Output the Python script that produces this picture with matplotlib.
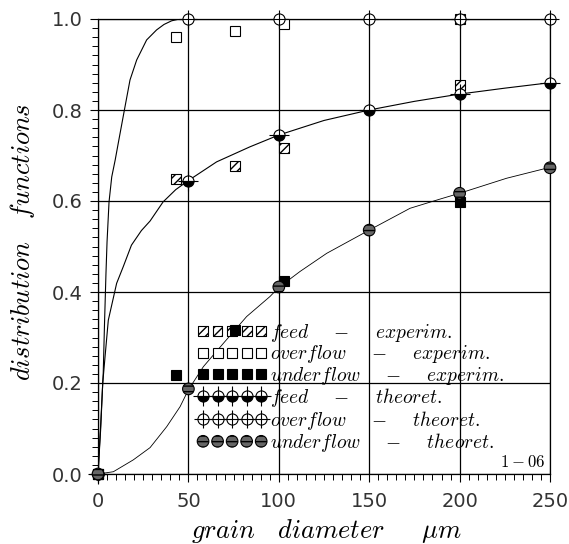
import matplotlib
matplotlib.use("Agg")
import matplotlib.pyplot as plt
from matplotlib.ticker import MultipleLocator, FormatStrFormatter

plt.rcParams["mathtext.fontset"] = "cm"

# theoretical points (grain diameter, um)
theo_x = [0, 50, 100, 150, 200, 250]
feed_theo = [0, 0.645, 0.745, 0.800, 0.835, 0.860]
over_theo = [0, 1.0, 1.0, 1.0, 1.0, 1.0]
under_theo = [0, 0.187, 0.411, 0.536, 0.617, 0.673]

# experimental points
exp_x = [0, 43, 76, 103, 200]
feed_exp = [0, 0.648, 0.677, 0.717, 0.855]
over_exp = [0, 0.960, 0.974, 0.989, 1.0]
under_exp = [0, 0.218, 0.316, 0.424, 0.598]

# curves
over_cx = [0, 1.5, 2.9, 3.6, 4.4, 5.0, 6.1, 7.6, 9.5, 11.2, 14.6, 17.7, 21.4, 26.9, 32.4, 36.5, 40.7, 45, 250]
over_cy = [0, 0.11, 0.222, 0.33, 0.44, 0.51, 0.598, 0.653, 0.69, 0.727, 0.80, 0.866, 0.910, 0.954, 0.976, 0.988, 0.996, 1.0, 1.0]
feed_cx = [0, 1.5, 2.6, 3.9, 5.7, 10.3, 14, 18.5, 24, 28.8, 36, 43, 50, 65.6, 84, 100, 111.7, 125, 150, 175, 200, 225, 250]
feed_cy = [0, 0.10, 0.199, 0.258, 0.338, 0.419, 0.456, 0.503, 0.535, 0.556, 0.598, 0.625, 0.645, 0.686, 0.719, 0.745, 0.760, 0.777, 0.800, 0.819, 0.835, 0.848, 0.860]
under_cx = [0, 8.5, 19.5, 28.8, 38, 45.4, 50, 58.3, 69.3, 82.2, 95.1, 100, 111.7, 126.5, 150, 172.6, 189, 200, 226, 250]
under_cy = [0, 0.005, 0.031, 0.058, 0.104, 0.148, 0.185, 0.236, 0.287, 0.346, 0.390, 0.410, 0.445, 0.485, 0.536, 0.584, 0.604, 0.617, 0.650, 0.674]

labels = [r"$feed\ \ \ \ -\ \ \ \ experim.$", r"$overflow\ \ \ \ -\ \ \ \ experim.$",
          r"$underflow\ \ \ \ -\ \ \ \ experim.$", r"$feed\ \ \ \ -\ \ \ \ theoret.$",
          r"$overflow\ \ \ \ -\ \ \ \ theoret.$", r"$underflow\ \ \ \ -\ \ \ \ theoret.$"]

fig = plt.figure(figsize=(5.69, 5.44), dpi=100)
ax = fig.add_axes([98 / 569, 1 - 474 / 544, 452 / 569, 455 / 544])

ax.plot(over_cx, over_cy, color="black", lw=0.8, zorder=2)
ax.plot(feed_cx, feed_cy, color="black", lw=0.8, zorder=2)
ax.plot(under_cx, under_cy, color="black", lw=0.6, zorder=2)

# experimental markers
h_fe = ax.scatter(exp_x, feed_exp, s=50, marker="s", facecolor="white", edgecolor="black",
                  hatch="////", linewidth=0.8, zorder=4, clip_on=False)
h_oe, = ax.plot(exp_x, over_exp, ls="none", marker="s", ms=7.5, mfc="white", mec="black", mew=0.8,
                zorder=4, clip_on=False)
h_ue, = ax.plot(exp_x, under_exp, ls="none", marker="s", ms=7.5, mfc="black", mec="black", mew=0.8,
                zorder=4, clip_on=False)

# theoretical markers
ft_c, = ax.plot(theo_x, feed_theo, ls="none", marker="o", ms=8, fillstyle="bottom", mfc="black",
                mfcalt="white", mec="black", mew=0.8, zorder=4, clip_on=False)
ft_p, = ax.plot(theo_x, feed_theo, ls="none", marker="+", ms=14, mec="black", mew=0.8, zorder=4, clip_on=False)
ot_c, = ax.plot(theo_x, over_theo, ls="none", marker="o", ms=8, mfc="white", mec="black", mew=0.8,
                zorder=4, clip_on=False)
ot_p, = ax.plot(theo_x, over_theo, ls="none", marker="+", ms=13, mec="black", mew=0.8, zorder=4, clip_on=False)
h_ut = ax.scatter(theo_x, under_theo, s=70, marker="o", facecolor="0.4", edgecolor="black",
                  hatch="---", linewidth=0.8, zorder=4, clip_on=False)

leg = ax.legend([h_fe, h_oe, h_ue, (ft_c, ft_p), (ot_c, ot_p), h_ut], labels,
                loc="upper left", bbox_to_anchor=(0.2195, 0.334), frameon=False,
                numpoints=5, scatterpoints=5, scatteryoffsets=[0.5],
                fontsize=14, handlelength=3.59, handletextpad=0.16, labelspacing=-0.03,
                borderpad=0, borderaxespad=0)
leg.set_zorder(3)

ax.text(0.99, 0.006, r"$\mathrm{1-06}$", transform=ax.transAxes, ha="right", va="bottom", fontsize=12)

ax.set_xlim(0, 250)
ax.set_ylim(0, 1.0)
ax.xaxis.set_major_locator(MultipleLocator(50))
ax.xaxis.set_minor_locator(MultipleLocator(5))
ax.yaxis.set_major_locator(MultipleLocator(0.2))
ax.yaxis.set_minor_locator(MultipleLocator(0.02))
ax.yaxis.set_major_formatter(FormatStrFormatter("%.1f"))
ax.tick_params(which="major", direction="out", length=6, width=0.8, pad=5, labelsize=14,
               labelcolor="0.2")
ax.tick_params(axis="x", which="major", pad=7)
ax.tick_params(which="minor", direction="out", length=4, width=0.7)

ax.grid(True, which="major", color="black", lw=0.9)
ax.set_axisbelow(True)
for sp in ax.spines.values():
    sp.set_linewidth(0.9)

ax.set_ylabel(r"$distribution\ \ \ functions$", fontsize=19)
ax.yaxis.set_label_coords(-0.135, 0.51)
ax.set_xlabel(r"$grain\ \ \ diameter\ \ \ \ \ \mu m$", fontsize=19)
ax.xaxis.set_label_coords(0.507, -0.095)

fig.savefig("out.png", dpi=100)
